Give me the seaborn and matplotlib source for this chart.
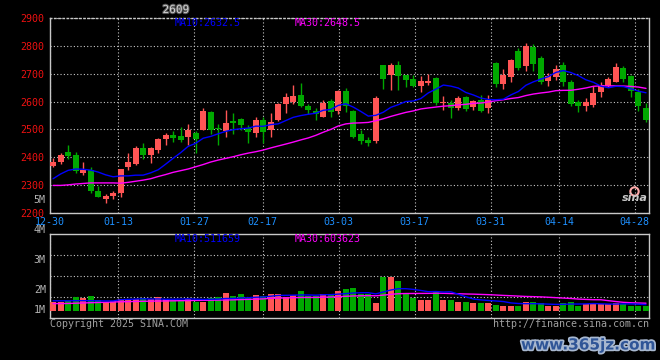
import matplotlib
matplotlib.use("Agg")
import matplotlib.pyplot as plt
import matplotlib.patheffects as pe
import numpy as np
import pandas as pd
import seaborn as sns

# ---------------- data ----------------
opens = [2370, 2384, 2419, 2408, 2345, 2355, 2279, 2251, 2262, 2271,
         2364, 2376, 2433, 2408, 2425, 2465, 2480, 2476, 2472, 2488,
         2498, 2563, 2506, 2495, 2532, 2537, 2505, 2488, 2534, 2498,
         2534, 2591, 2600, 2624, 2585, 2566, 2546, 2602, 2566, 2638,
         2566, 2484, 2462, 2460, 2731, 2695, 2731, 2695, 2680, 2656,
         2668, 2684, 2594, 2596, 2576, 2617, 2582, 2606, 2576, 2740,
         2663, 2689, 2782, 2729, 2797, 2755, 2675, 2689, 2731, 2671,
         2600, 2584, 2588, 2636, 2656, 2671, 2719, 2692, 2636, 2576]
closes = [2383, 2409, 2406, 2352, 2356, 2279, 2259, 2261, 2271, 2357,
          2383, 2433, 2408, 2435, 2465, 2481, 2471, 2462, 2498, 2465,
          2566, 2498, 2503, 2522, 2523, 2517, 2492, 2534, 2492, 2527,
          2591, 2616, 2620, 2585, 2570, 2556, 2596, 2564, 2638, 2585,
          2472, 2460, 2452, 2614, 2681, 2731, 2692, 2677, 2656, 2674,
          2675, 2594, 2598, 2576, 2612, 2573, 2602, 2566, 2606, 2663,
          2695, 2749, 2720, 2800, 2735, 2671, 2692, 2717, 2671, 2591,
          2584, 2600, 2630, 2660, 2680, 2725, 2680, 2639, 2584, 2534]
highs = [2396, 2414, 2444, 2420, 2383, 2365, 2297, 2268, 2279, 2358,
         2414, 2441, 2452, 2438, 2471, 2488, 2496, 2507, 2520, 2496,
         2577, 2566, 2518, 2570, 2560, 2541, 2515, 2546, 2546, 2560,
         2596, 2630, 2660, 2668, 2591, 2576, 2606, 2608, 2641, 2648,
         2570, 2498, 2472, 2620, 2731, 2740, 2745, 2697, 2695, 2692,
         2699, 2687, 2620, 2606, 2620, 2620, 2606, 2624, 2624, 2743,
         2717, 2753, 2794, 2810, 2807, 2762, 2702, 2731, 2742, 2678,
         2604, 2612, 2656, 2671, 2687, 2740, 2728, 2695, 2644, 2594]
lows = [2364, 2376, 2394, 2344, 2337, 2271, 2257, 2237, 2252, 2259,
        2356, 2372, 2395, 2381, 2415, 2444, 2456, 2456, 2444, 2414,
        2497, 2483, 2444, 2473, 2485, 2498, 2453, 2474, 2453, 2474,
        2532, 2560, 2591, 2582, 2554, 2534, 2546, 2546, 2556, 2564,
        2468, 2448, 2441, 2450, 2645, 2641, 2641, 2653, 2651, 2636,
        2660, 2588, 2570, 2542, 2570, 2566, 2570, 2562, 2558, 2654,
        2645, 2671, 2713, 2711, 2711, 2663, 2656, 2678, 2656, 2584,
        2564, 2567, 2582, 2615, 2652, 2670, 2671, 2618, 2567, 2528]
# volume in millions
volumes = [0.73, 0.78, 0.83, 1.19, 1.11, 1.28, 0.89, 0.78, 0.83, 1.00,
           1.00, 1.00, 1.08, 1.00, 1.19, 1.00, 0.92, 0.92, 1.00, 0.78,
           0.78, 1.11, 1.19, 1.53, 1.25, 1.42, 1.06, 1.33, 1.25, 1.42,
           1.42, 1.19, 1.33, 1.69, 1.25, 1.25, 1.42, 1.42, 1.69, 1.83,
           1.94, 1.39, 1.39, 0.69, 2.86, 2.86, 2.53, 1.42, 1.11, 0.92,
           0.92, 1.56, 0.92, 0.92, 0.78, 0.78, 0.69, 0.64, 0.64, 0.50,
           0.44, 0.44, 0.42, 0.78, 0.78, 0.64, 0.44, 0.42, 0.69, 0.78,
           0.42, 0.56, 0.69, 0.56, 0.56, 0.69, 0.56, 0.42, 0.42, 0.44]
# moving-average values before a full window exists
ma10_head = [2323, 2340, 2353, 2358, 2357, 2354, 2347, 2337, 2330]
ma30_head = [2299, 2299, 2301, 2304, 2306, 2308, 2308, 2308, 2308, 2307,
             2310, 2314, 2318, 2323, 2331, 2338, 2346, 2352, 2358, 2366,
             2374, 2383, 2390, 2396, 2402, 2409, 2415, 2420, 2426]
vma10_head = [0.85, 0.85, 0.85, 0.86, 0.86, 0.86, 0.85, 0.84, 0.84]
vma30_head = [0.62, 0.62, 0.63, 0.65, 0.67, 0.69, 0.71, 0.73, 0.75, 0.77,
              0.78, 0.80, 0.81, 0.82, 0.83, 0.84, 0.85, 0.86, 0.87, 0.88,
              0.89, 0.90, 0.91, 0.92, 0.93, 0.95, 0.97, 0.99, 1.01]

date_labels = ['12-30', '01-13', '01-27', '02-17', '03-03', '03-17', '03-31', '04-14', '04-28']
date_label_idx = [0, 9, 19, 28, 38, 48, 58, 67, 77]
price_ticks = [2200, 2300, 2400, 2500, 2600, 2700, 2800, 2900]
vol_tick_labels = ['1M', '2M', '3M', '4M']

ma_price_texts = ['MA10:2632.5', 'MA30:2648.5']
ma_vol_texts = ['MA10:511659', 'MA30:603623']

# ---------------- styling ----------------
sns.set_style("dark", {"axes.facecolor": "black", "figure.facecolor": "black"})
plt.rcParams['font.family'] = ['DejaVu Sans Mono', 'DejaVu Sans']

RED = '#ff5555'
GREEN = '#00a800'
GRID = '#c8c8c8'
BLUE = '#0000ff'
MAGENTA = '#ff00ff'
LABEL_RED = '#ee1111'
DATE_BLUE = '#1e90ff'
GRAY = '#b4b4b4'
dotted = (0, (1, 2))

df = pd.DataFrame({'i': np.arange(len(closes)), 'open': opens, 'close': closes,
                   'high': highs, 'low': lows, 'vol': volumes})
up = df['close'] >= df['open']
colors = np.where(up, RED, GREEN)

ma10 = df['close'].rolling(10).mean()
ma10.iloc[:len(ma10_head)] = ma10_head
ma30 = df['close'].rolling(30).mean()
ma30.iloc[:len(ma30_head)] = ma30_head
vma10 = df['vol'].rolling(10).mean()
vma10.iloc[:len(vma10_head)] = vma10_head
vma30 = df['vol'].rolling(30).mean()
vma30.iloc[:len(vma30_head)] = vma30_head
df['ma10'], df['ma30'], df['vma10'], df['vma30'] = ma10, ma30, vma10, vma30

tick_pos = [1.012 * d - 0.41 for d in date_label_idx]
xlim = (-0.41, 79.4)

fig = plt.figure(figsize=(6.6, 3.6), dpi=100)
fig.patch.set_facecolor('black')
ax = fig.add_axes([50 / 660, 1 - 213 / 360, 599 / 660, 195 / 360])
axv = fig.add_axes([50 / 660, 1 - 318 / 360, 599 / 660, 84 / 360])

# ---------------- price panel ----------------
body_bottom = np.minimum(df['open'], df['close'])
body_h = np.maximum(np.abs(df['close'] - df['open']), 3)
ax.vlines(df['i'], df['low'], df['high'], colors=colors, linewidth=1, zorder=2)
ax.bar(df['i'], body_h, bottom=body_bottom, width=0.8, color=colors, linewidth=0, zorder=3)
sns.lineplot(data=df, x='i', y='ma30', ax=ax, color=MAGENTA, linewidth=1, zorder=4)
sns.lineplot(data=df, x='i', y='ma10', ax=ax, color=BLUE, linewidth=1, zorder=4)

ax.set_xlim(*xlim)
ax.set_ylim(2200, 2900)
ax.set_yticks(price_ticks)
ax.set_yticklabels([str(t) for t in price_ticks], color=LABEL_RED, fontsize=7.2)
ax.set_xticks(tick_pos)
ax.set_xticklabels(date_labels, color=DATE_BLUE, fontsize=7.2)
ax.tick_params(axis='both', length=0)
ax.tick_params(axis='y', pad=4)
ax.tick_params(axis='x', pad=3)
ax.set_xlabel('')
ax.set_ylabel('')
ax.grid(True, color=GRID, linestyle=dotted, linewidth=0.8)
ax.set_axisbelow(True)
for s in ax.spines.values():
    s.set_visible(True)
    s.set_color(GRID)
    s.set_linewidth(1)
ax.spines['top'].set_linestyle(dotted)

ax.text((175 - 50) / 599, 0.972, ma_price_texts[0], color=BLUE, fontsize=7.2,
        transform=ax.transAxes, va='center', ha='left')
ax.text((295 - 50) / 599, 0.972, ma_price_texts[1], color=MAGENTA, fontsize=7.2,
        transform=ax.transAxes, va='center', ha='left')
ax.text(-0.007, (213 - 200) / 195, '5M', color=GRAY, fontsize=7.2,
        transform=ax.transAxes, va='center', ha='right')
# sina logo
ax.plot([0.975], [0.115], marker='o', markersize=6, mfc='none', mec='#ffaaaa',
        mew=1.5, transform=ax.transAxes, zorder=5)
ax.text(0.998, 0.075, 'sina', color='#c8c8c8', fontsize=8, fontweight='bold',
        fontstyle='italic', family='DejaVu Sans', transform=ax.transAxes,
        ha='right', va='center', zorder=5)

# ---------------- volume panel ----------------
axv.bar(df['i'], df['vol'], width=0.8, color=colors, linewidth=0, zorder=3)
sns.lineplot(data=df, x='i', y='vma30', ax=axv, color=MAGENTA, linewidth=1, zorder=4)
sns.lineplot(data=df, x='i', y='vma10', ax=axv, color=BLUE, linewidth=1, zorder=4)
axv.set_xlim(*xlim)
axv.set_ylim(-0.583, 6.417)
axv.set_xticks(tick_pos)
axv.set_xticklabels([])
axv.set_yticks([])
axv.tick_params(axis='both', length=0)
axv.set_xlabel('')
axv.set_ylabel('')
axv.grid(True, axis='x', color=GRID, linestyle=dotted, linewidth=0.8)
axv.set_axisbelow(True)
for f in (0.25, 0.5, 0.75):
    axv.plot([0, 1], [f, f], transform=axv.transAxes, color=GRID,
             linestyle=dotted, linewidth=0.8, zorder=1)
for s in axv.spines.values():
    s.set_visible(True)
    s.set_color(GRID)
    s.set_linewidth(1)
vol_label_pos = [0.083, 1.75, 4.25, 6.75]
for lbl, yv in zip(vol_tick_labels, vol_label_pos):
    axv.text(-0.007, yv, lbl, color=GRAY, fontsize=7.2, ha='right', va='center',
             transform=axv.get_yaxis_transform(), clip_on=False)
axv.text((175 - 50) / 599, 0.94, ma_vol_texts[0], color=BLUE, fontsize=7.2,
         transform=axv.transAxes, va='center', ha='left')
axv.text((295 - 50) / 599, 0.94, ma_vol_texts[1], color=MAGENTA, fontsize=7.2,
         transform=axv.transAxes, va='center', ha='left')

# ---------------- figure texts ----------------
fig.text(176 / 660, 1 - 10 / 360, '2609', color='#d0d0d0', fontsize=8,
         ha='center', va='center',
         path_effects=[pe.withStroke(linewidth=1.5, foreground='#555555')])
fig.text(50 / 660, 1 - 324 / 360, 'Copyright 2025 SINA.COM', color='#a0a0a0',
         fontsize=7.2, ha='left', va='center')
fig.text(649 / 660, 1 - 324 / 360, 'http://finance.sina.com.cn', color='#a0a0a0',
         fontsize=7.2, ha='right', va='center')
fig.text(655 / 660, 1 - 345 / 360, 'www.365jz.com', color='#2f5597', fontsize=11,
         fontweight='bold', family='DejaVu Sans', ha='right', va='center',
         path_effects=[pe.withStroke(linewidth=2.5, foreground='#a8b8d0')])

fig.savefig('out.png', dpi=100, facecolor='black')
